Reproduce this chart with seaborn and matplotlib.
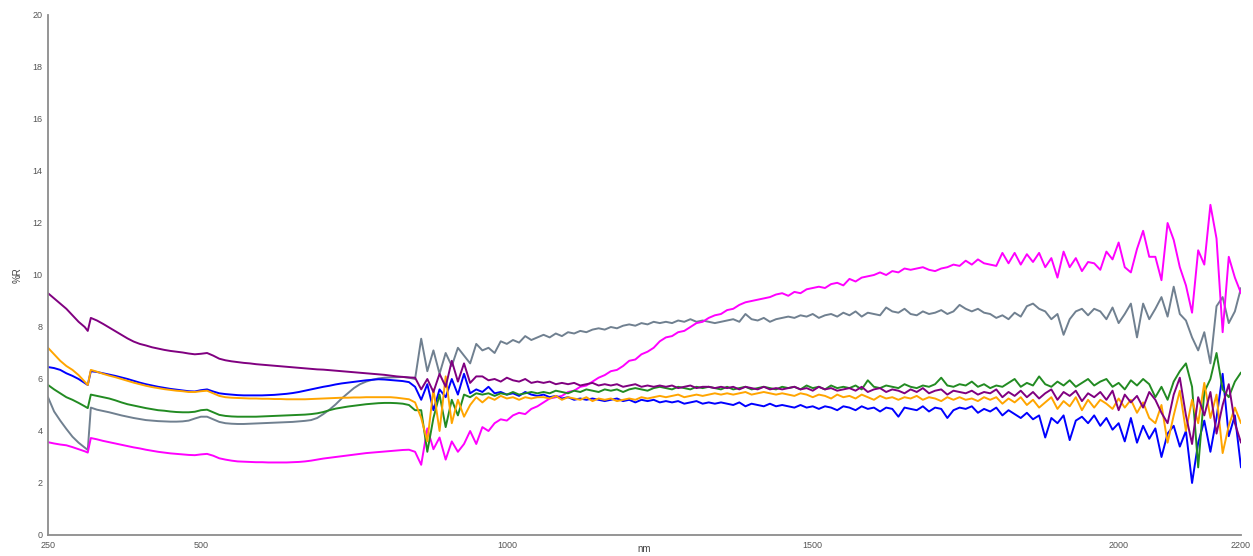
import numpy as np
import pandas as pd
import matplotlib
matplotlib.use("Agg")
import matplotlib.pyplot as plt
import seaborn as sns

# ---------------- data ----------------
# wavelength grid (nm)
wl_vis = np.concatenate([np.arange(250, 311, 10), [315], np.arange(320, 851, 10)])
wl_nir = np.arange(860, 2201, 10)

purple_vis = [9.3, 9.1, 8.9, 8.7, 8.45, 8.2, 8.0, 7.85,
              8.35, 8.25, 8.12, 7.98, 7.84, 7.7, 7.56, 7.44, 7.35, 7.29,
              7.22, 7.17, 7.12, 7.08, 7.05, 7.02, 6.98, 6.95, 6.97, 7.0,
              6.9, 6.78, 6.72, 6.68, 6.65, 6.62, 6.6, 6.57, 6.55, 6.53,
              6.51, 6.49, 6.47, 6.45, 6.43, 6.41, 6.39, 6.37, 6.36, 6.34,
              6.32, 6.3, 6.28, 6.26, 6.24, 6.22, 6.2, 6.18, 6.16, 6.13,
              6.1, 6.08, 6.06, 6.05]
blue_vis = [6.46, 6.42, 6.35, 6.22, 6.12, 6.0, 5.85, 5.77,
            6.3, 6.27, 6.22, 6.17, 6.12, 6.06, 6.0, 5.93, 5.86, 5.8,
            5.75, 5.7, 5.66, 5.62, 5.59, 5.56, 5.53, 5.52, 5.57, 5.6,
            5.52, 5.45, 5.42, 5.4, 5.38, 5.37, 5.37, 5.37, 5.37, 5.38,
            5.39, 5.41, 5.43, 5.46, 5.5, 5.55, 5.6, 5.65, 5.7, 5.74,
            5.79, 5.83, 5.86, 5.89, 5.92, 5.95, 5.97, 5.99, 5.98, 5.96,
            5.94, 5.92, 5.88, 5.7]
orange_vis = [7.2, 6.95, 6.7, 6.5, 6.35, 6.15, 5.9, 5.77,
              6.35, 6.28, 6.2, 6.13, 6.07, 6.0, 5.93, 5.86, 5.8, 5.74,
              5.69, 5.65, 5.61, 5.58, 5.55, 5.53, 5.5, 5.5, 5.53, 5.55,
              5.45, 5.35, 5.3, 5.28, 5.27, 5.26, 5.25, 5.25, 5.24, 5.24,
              5.23, 5.23, 5.22, 5.22, 5.22, 5.22, 5.23, 5.24, 5.25, 5.26,
              5.27, 5.28, 5.28, 5.29, 5.29, 5.3, 5.3, 5.3, 5.3, 5.3,
              5.28, 5.25, 5.22, 5.1]
green_vis = [5.77, 5.6, 5.45, 5.3, 5.2, 5.08, 4.95, 4.88,
             5.4, 5.35, 5.3, 5.25, 5.18, 5.1, 5.03, 4.98, 4.93, 4.88,
             4.84, 4.8, 4.78, 4.75, 4.73, 4.72, 4.72, 4.74, 4.8, 4.82,
             4.72, 4.62, 4.58, 4.56, 4.55, 4.55, 4.55, 4.55, 4.56, 4.57,
             4.58, 4.59, 4.6, 4.61, 4.62, 4.63, 4.65, 4.68, 4.73, 4.8,
             4.86, 4.9, 4.94, 4.97, 5.0, 5.03, 5.05, 5.07, 5.08, 5.08,
             5.07, 5.05, 5.0, 4.8]
gray_vis = [5.3, 4.75, 4.4, 4.08, 3.78, 3.55, 3.36, 3.27,
            4.9, 4.82, 4.77, 4.72, 4.66, 4.6, 4.55, 4.5, 4.46, 4.42,
            4.4, 4.38, 4.37, 4.36, 4.36, 4.37, 4.4, 4.48, 4.55, 4.55,
            4.45, 4.35, 4.3, 4.28, 4.27, 4.27, 4.28, 4.29, 4.3, 4.31,
            4.32, 4.33, 4.34, 4.35, 4.37, 4.39, 4.42, 4.5, 4.65, 4.82,
            5.02, 5.25, 5.45, 5.65, 5.8, 5.9, 5.97, 6.02, 6.05, 6.06,
            6.07, 6.08, 6.05, 6.0]
magenta_vis = [3.57, 3.52, 3.48, 3.45, 3.38, 3.3, 3.22, 3.17,
               3.73, 3.68, 3.62, 3.57, 3.52, 3.47, 3.42, 3.37, 3.33, 3.28,
               3.24, 3.2, 3.17, 3.14, 3.12, 3.1, 3.08, 3.07, 3.1, 3.12,
               3.05, 2.95, 2.9, 2.86, 2.83, 2.82, 2.81, 2.8, 2.8, 2.79,
               2.79, 2.79, 2.79, 2.8, 2.81, 2.83, 2.86, 2.9, 2.94, 2.97,
               3.0, 3.03, 3.06, 3.09, 3.12, 3.15, 3.17, 3.19, 3.21, 3.23,
               3.25, 3.27, 3.28, 3.2]

gray_nir = [7.55, 6.3, 7.1, 6.2, 7.0, 6.5, 7.2, 6.9, 6.6, 7.35,
            7.1, 7.2, 7.0, 7.45, 7.35, 7.5, 7.4, 7.65, 7.5, 7.6,
            7.7, 7.6, 7.75, 7.65, 7.8, 7.75, 7.85, 7.8, 7.9, 7.95,
            7.9, 8.0, 7.95, 8.05, 8.1, 8.05, 8.15, 8.1, 8.2, 8.15,
            8.2, 8.15, 8.25, 8.2, 8.3, 8.2, 8.25, 8.2, 8.15, 8.2,
            8.25, 8.3, 8.2, 8.5, 8.3, 8.25, 8.35, 8.2, 8.3, 8.35,
            8.4, 8.35, 8.45, 8.4, 8.5, 8.35, 8.45, 8.5, 8.4, 8.55,
            8.45, 8.6, 8.4, 8.55, 8.5, 8.45, 8.75, 8.6, 8.55, 8.7,
            8.5, 8.45, 8.6, 8.5, 8.55, 8.65, 8.5, 8.6, 8.85, 8.7,
            8.6, 8.7, 8.55, 8.5, 8.35, 8.45, 8.3, 8.55, 8.4, 8.8,
            8.9, 8.7, 8.6, 8.3, 8.5, 7.7, 8.3, 8.6, 8.7, 8.45,
            8.7, 8.6, 8.3, 8.75, 8.15, 8.5, 8.9, 7.6, 8.9, 8.3,
            8.7, 9.15, 8.4, 9.55, 8.5, 8.25, 7.6, 7.1, 7.8, 6.6,
            8.8, 9.15, 8.15, 8.6, 9.5]
magenta_nir = [2.7, 4.1, 3.3, 3.75, 2.9, 3.6, 3.2, 3.5, 4.0, 3.5,
               4.15, 4.0, 4.3, 4.45, 4.4, 4.6, 4.7, 4.65, 4.85, 4.95,
               5.1, 5.25, 5.3, 5.35, 5.5, 5.55, 5.7, 5.75, 5.9, 6.05,
               6.15, 6.3, 6.35, 6.5, 6.7, 6.75, 6.95, 7.05, 7.2, 7.45,
               7.6, 7.65, 7.8, 7.85, 8.0, 8.15, 8.2, 8.35, 8.45, 8.5,
               8.65, 8.7, 8.85, 8.95, 9.0, 9.05, 9.1, 9.15, 9.25, 9.3,
               9.2, 9.35, 9.3, 9.45, 9.5, 9.55, 9.5, 9.65, 9.7, 9.6,
               9.85, 9.75, 9.9, 9.95, 10.0, 10.1, 10.0, 10.15, 10.1, 10.25,
               10.2, 10.25, 10.3, 10.2, 10.15, 10.25, 10.3, 10.4, 10.35, 10.55,
               10.4, 10.6, 10.45, 10.4, 10.35, 10.85, 10.45, 10.85, 10.4, 10.8,
               10.5, 10.85, 10.3, 10.65, 9.9, 10.9, 10.3, 10.65, 10.15, 10.5,
               10.45, 10.2, 10.9, 10.6, 11.25, 10.3, 10.1, 11.0, 11.7, 10.7,
               10.7, 9.8, 12.0, 11.35, 10.3, 9.6, 8.55, 10.95, 10.4, 12.7,
               11.4, 7.8, 10.7, 9.9, 9.3]
purple_nir = [5.6, 6.0, 5.5, 6.2, 5.7, 6.7, 5.9, 6.6, 5.85, 6.1,
              6.1, 5.95, 6.0, 5.9, 6.05, 5.95, 5.9, 6.0, 5.85, 5.9,
              5.85, 5.9, 5.8, 5.85, 5.8, 5.85, 5.75, 5.8, 5.85, 5.75,
              5.8, 5.75, 5.8, 5.7, 5.75, 5.8, 5.7, 5.75, 5.7, 5.75,
              5.7, 5.75, 5.65, 5.7, 5.75, 5.65, 5.7, 5.7, 5.65, 5.7,
              5.65, 5.7, 5.6, 5.7, 5.65, 5.6, 5.7, 5.6, 5.65, 5.6,
              5.65, 5.7, 5.6, 5.65, 5.55, 5.7, 5.6, 5.65, 5.55, 5.6,
              5.65, 5.55, 5.7, 5.5, 5.6, 5.65, 5.5, 5.6, 5.55, 5.45,
              5.6, 5.5, 5.65, 5.45, 5.55, 5.6, 5.4, 5.55, 5.5, 5.45,
              5.55, 5.4, 5.5, 5.45, 5.6, 5.3, 5.5, 5.35, 5.55, 5.3,
              5.5, 5.25, 5.45, 5.6, 5.2, 5.5, 5.35, 5.55, 5.15, 5.45,
              5.3, 5.5, 5.2, 5.55, 4.8, 5.4, 5.1, 5.35, 4.9, 5.5,
              5.2, 4.7, 4.3, 5.4, 6.05, 4.6, 3.5, 5.3, 4.6, 5.5,
              3.9, 5.0, 5.8, 4.3, 3.55]
blue_nir = [5.2, 5.8, 4.8, 5.6, 5.3, 6.0, 5.4, 6.2, 5.45, 5.6,
            5.5, 5.7, 5.45, 5.5, 5.4, 5.45, 5.35, 5.5, 5.4, 5.35,
            5.4, 5.3, 5.35, 5.25, 5.3, 5.2, 5.25, 5.2, 5.25, 5.2,
            5.15, 5.2, 5.25, 5.15, 5.2, 5.1, 5.2, 5.15, 5.2, 5.1,
            5.15, 5.1, 5.15, 5.05, 5.1, 5.15, 5.05, 5.1, 5.05, 5.1,
            5.05, 5.0, 5.1, 4.95, 5.05, 5.0, 4.95, 5.05, 4.95, 5.0,
            4.95, 4.9, 5.0, 4.9, 4.95, 4.85, 4.95, 4.9, 4.8, 4.95,
            4.9, 4.8, 4.95, 4.85, 4.9, 4.75, 4.9, 4.85, 4.55, 4.9,
            4.85, 4.8, 4.95, 4.75, 4.9, 4.85, 4.5, 4.8, 4.9, 4.85,
            4.95, 4.7, 4.85, 4.75, 4.9, 4.6, 4.8, 4.65, 4.5, 4.7,
            4.45, 4.6, 3.75, 4.5, 4.3, 4.6, 3.65, 4.4, 4.55, 4.3,
            4.6, 4.2, 4.5, 4.05, 4.3, 3.6, 4.5, 3.55, 4.2, 3.7,
            4.1, 3.0, 3.9, 4.2, 3.4, 4.0, 2.0, 3.55, 4.4, 3.2,
            4.5, 6.2, 3.8, 4.6, 2.6]
orange_nir = [4.5, 3.6, 5.6, 4.0, 6.1, 4.3, 5.2, 4.55, 5.0, 5.3,
              5.1, 5.3, 5.2, 5.35, 5.25, 5.3, 5.2, 5.3, 5.25, 5.3,
              5.3, 5.25, 5.35, 5.2, 5.3, 5.25, 5.2, 5.3, 5.15, 5.25,
              5.2, 5.25, 5.15, 5.2, 5.25, 5.2, 5.3, 5.25, 5.3, 5.35,
              5.3, 5.35, 5.4, 5.3, 5.35, 5.4, 5.35, 5.4, 5.45, 5.4,
              5.45, 5.4, 5.45, 5.5, 5.4, 5.45, 5.5, 5.45, 5.4, 5.45,
              5.4, 5.35, 5.45, 5.4, 5.3, 5.4, 5.35, 5.25, 5.4, 5.3,
              5.35, 5.25, 5.4, 5.3, 5.2, 5.35, 5.25, 5.3, 5.2, 5.3,
              5.25, 5.35, 5.2, 5.3, 5.25, 5.15, 5.3, 5.2, 5.3, 5.2,
              5.25, 5.15, 5.3, 5.2, 5.3, 5.05, 5.25, 5.1, 5.3, 5.0,
              5.2, 4.9, 5.1, 5.3, 4.85, 5.15, 4.95, 5.3, 4.8, 5.2,
              4.9, 5.2, 5.05, 4.85, 5.25, 4.9, 5.2, 4.7, 5.1, 4.5,
              4.3, 5.0, 3.55, 4.6, 5.55, 4.0, 5.2, 4.3, 5.85, 4.5,
              5.4, 3.15, 4.2, 4.9, 4.3]
green_nir = [4.8, 3.2, 4.5, 5.4, 4.15, 5.2, 4.6, 5.4, 5.3, 5.45,
             5.4, 5.45, 5.35, 5.45, 5.4, 5.5, 5.4, 5.45, 5.5, 5.45,
             5.5, 5.45, 5.55, 5.5, 5.45, 5.55, 5.5, 5.6, 5.55, 5.5,
             5.6, 5.55, 5.6, 5.5, 5.6, 5.65, 5.6, 5.55, 5.65, 5.7,
             5.65, 5.6, 5.7, 5.65, 5.6, 5.7, 5.65, 5.7, 5.65, 5.6,
             5.7, 5.6, 5.65, 5.7, 5.6, 5.65, 5.7, 5.65, 5.6, 5.7,
             5.65, 5.7, 5.6, 5.75, 5.65, 5.7, 5.6, 5.75, 5.65, 5.7,
             5.65, 5.75, 5.6, 5.95, 5.7, 5.65, 5.75, 5.7, 5.65, 5.8,
             5.7, 5.65, 5.75, 5.7, 5.8, 6.05, 5.75, 5.7, 5.8, 5.75,
             5.9, 5.7, 5.8, 5.65, 5.75, 5.7, 5.85, 6.0, 5.7, 5.85,
             5.75, 6.1, 5.8, 5.7, 5.9, 5.75, 5.95, 5.7, 5.85, 6.0,
             5.75, 5.9, 6.0, 5.7, 5.85, 5.6, 5.95, 5.75, 6.0, 5.8,
             5.3, 5.7, 5.2, 5.9, 6.3, 6.6, 5.7, 2.6, 5.5, 6.0,
             7.0, 5.6, 5.3, 5.9, 6.25]

series_names = ["gray", "magenta", "blue", "green", "orange", "purple"]
series_colors = ["#708090", "#ff00ff", "#0000ff", "#228b22", "#ffa500", "#800080"]
x_ticks = [250, 500, 1000, 1500, 2000, 2200]
y_ticks = list(range(0, 21, 2))

# ---------------- build table ----------------
vis = {"gray": gray_vis, "magenta": magenta_vis, "blue": blue_vis,
       "green": green_vis, "orange": orange_vis, "purple": purple_vis}
nir = {"gray": gray_nir, "magenta": magenta_nir, "blue": blue_nir,
       "green": green_nir, "orange": orange_nir, "purple": purple_nir}
wl = np.concatenate([wl_vis, wl_nir])
frames = []
for name in series_names:
    vals = np.concatenate([vis[name], nir[name]])
    frames.append(pd.DataFrame({"nm": wl, "R": vals, "series": name}))
df = pd.concat(frames, ignore_index=True)

# ---------------- plot ----------------
sns.set_style("white")
plt.rcParams["font.family"] = ["Liberation Sans", "DejaVu Sans"]

fig = plt.figure(figsize=(12.53, 5.56), dpi=100)
ax = fig.add_axes([48 / 1253, 1 - 535 / 556, (1241 - 48) / 1253, (535 - 15) / 556])

sns.lineplot(data=df, x="nm", y="R", hue="series", hue_order=series_names,
             palette=dict(zip(series_names, series_colors)), estimator=None,
             sort=False, linewidth=1.4, legend=False, ax=ax)

ax.set_xlim(250, 2200)
ax.set_ylim(0, 20)
ax.set_xticks(x_ticks)
ax.set_yticks(y_ticks)
ax.set_xticklabels([str(t) for t in x_ticks])
ax.set_yticklabels([str(t) for t in y_ticks])
ax.tick_params(axis="both", labelsize=6.5, colors="#555555", length=3, width=0.8, pad=1)
for side in ["top", "right"]:
    ax.spines[side].set_visible(False)
for side in ["left", "bottom"]:
    ax.spines[side].set_color("#8c8c8c")
    ax.spines[side].set_linewidth(1.3)
ax.set_xlabel("nm", fontsize=7, color="#444444")
ax.xaxis.set_label_coords(0.5, -0.017)
ax.set_ylabel("%R", fontsize=7, color="#444444", labelpad=7)
ax.grid(False)

fig.savefig("out.png", dpi=100)
